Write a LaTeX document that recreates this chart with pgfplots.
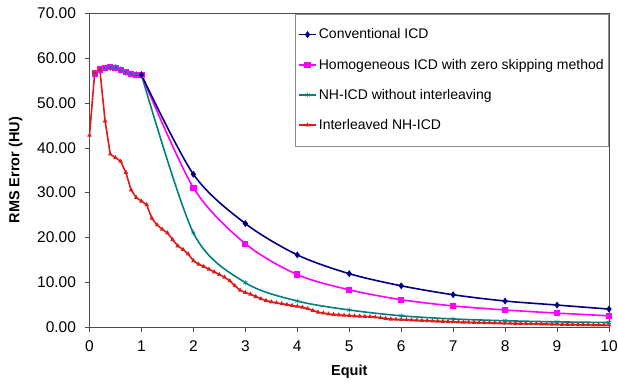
\documentclass[border=0pt]{standalone}
\usepackage{pgfplots}
\pgfplotsset{compat=1.18}
\usepackage{fontspec}
\setmainfont{Liberation Sans}
\definecolor{cnavy}{RGB}{0,0,128}
\definecolor{cmag}{RGB}{255,0,255}
\definecolor{cteal}{RGB}{0,128,128}
\definecolor{cred}{RGB}{225,25,25}
\begin{document}
\begin{tikzpicture}
\useasboundingbox (0,0) rectangle (618pt,385pt);
\begin{axis}[
  at={(89.5pt,58pt)}, anchor=south west,
  width=519.5pt, height=313.5pt, scale only axis,
  xmin=0, xmax=10, ymin=0, ymax=70,
  xtick={0,1,...,10}, ytick={0,10,...,70},
  xtick pos=bottom, ytick pos=left, tick align=outside,
  major tick length=5pt,
  tick style={black!70, line width=0.6pt},
  axis line style={black!70, line width=0.9pt},
  /pgf/number format/assume math mode=true,
  yticklabel style={/pgf/number format/fixed, /pgf/number format/precision=2, /pgf/number format/fixed zerofill, xshift=-5pt},
  xticklabel style={yshift=-5pt},
  ticklabel style={font=\fontsize{15.5}{18}\selectfont},
  xlabel={\bfseries Equit}, ylabel={\bfseries RMS Error (HU)},
  xlabel style={yshift=-7pt},
  ylabel style={yshift=8pt},
  label style={font=\fontsize{14.5}{17}\selectfont},
  legend style={at={(1,1)}, anchor=north east, draw=black!45, line width=0.6pt,
    font=\fontsize{14}{16}\selectfont, row sep=14.5pt, inner xsep=3pt, inner ysep=13pt},
  legend cell align=left,
  every axis plot/.append style={line width=1.6pt},
]
% Conventional ICD
\addplot[cnavy, mark=diamond*, mark size=2.2pt, smooth, tension=0.5] coordinates {
(0.1,56.6)(0.2,57.5)(0.3,57.8)(0.4,58.0)(0.5,57.85)(0.6,57.4)(0.7,56.9)(0.8,56.5)(0.9,56.3)(1.0,56.3)};
\addlegendentry{Conventional ICD}
\addplot[cmag, mark=square*, mark size=2.3pt, smooth, tension=0.5] coordinates {
(0.1,56.6)(0.2,57.5)(0.3,57.8)(0.4,58.0)(0.5,57.85)(0.6,57.4)(0.7,56.9)(0.8,56.5)(0.9,56.3)(1.0,56.3)};
\addlegendentry{Homogeneous ICD with zero skipping method}
\addplot[cteal, mark=asterisk, mark size=2.5pt, mark options={line width=0.6pt}, smooth, tension=0.5] coordinates {
(0.1,56.6)(0.2,57.5)(0.3,57.8)(0.4,58.0)(0.5,57.85)(0.6,57.4)(0.7,56.9)(0.8,56.5)(0.9,56.3)(1.0,56.3)};
\addlegendentry{NH-ICD without interleaving}
\addplot[cred, mark=triangle*, mark size=1.1pt] coordinates {
(0.0,42.8)(0.1,56.8)(0.2,57.4)(0.3,46.0)(0.4,38.6)(0.5,37.8)(0.6,37.0)(0.7,34.5)(0.8,30.6)(0.9,28.9)
(1.0,28.1)(1.1,27.3)(1.2,24.3)(1.3,22.8)(1.4,21.8)(1.5,21.0)(1.6,19.5)(1.7,18.1)(1.8,17.3)(1.9,16.3)
(2.0,14.8)(2.1,14.0)(2.2,13.5)(2.3,12.9)(2.4,12.3)(2.5,11.7)(2.6,11.1)(2.7,10.3)(2.8,9.2)(2.9,8.2)
(3.0,7.7)(3.1,7.3)(3.2,6.8)(3.3,6.3)(3.4,5.9)(3.5,5.6)(3.6,5.4)(3.7,5.2)(3.8,5.0)(3.9,4.8)
(4.0,4.6)(4.1,4.4)(4.2,4.1)(4.3,3.7)(4.4,3.3)(4.5,3.1)(4.6,2.9)(4.7,2.8)(4.8,2.7)(4.9,2.6)
(5.0,2.55)(5.1,2.45)(5.2,2.4)(5.3,2.35)(5.4,2.3)(5.5,2.2)(5.6,2.05)(5.7,1.9)(5.8,1.75)(5.9,1.7)
(6.0,1.65)(6.1,1.6)(6.2,1.55)(6.3,1.5)(6.4,1.45)(6.5,1.4)(6.6,1.35)(6.7,1.3)(6.8,1.25)(6.9,1.2)
(7.0,1.15)(7.1,1.1)(7.2,1.07)(7.3,1.04)(7.4,1.01)(7.5,0.98)(7.6,0.95)(7.7,0.92)(7.8,0.89)(7.9,0.86)
(8.0,0.83)(8.1,0.81)(8.2,0.79)(8.3,0.77)(8.4,0.75)(8.5,0.72)(8.6,0.70)(8.7,0.68)(8.8,0.66)(8.9,0.63)
(9.0,0.60)(9.1,0.58)(9.2,0.56)(9.3,0.54)(9.4,0.52)(9.5,0.50)(9.6,0.48)(9.7,0.46)(9.8,0.44)(9.9,0.43)(10.0,0.42)};
\addlegendentry{Interleaved NH-ICD}
% later parts (from Equit 1 onward) of the three other series
\addplot[cteal, mark=asterisk, mark size=2.5pt, mark options={line width=0.6pt}, smooth, tension=0.5, forget plot] coordinates {
(1.0,56.3)(2,21.0)(3,9.9)(4,5.8)(5,3.8)(6,2.5)(7,1.8)(8,1.4)(9,1.15)(10,1.0)};
\addplot[cmag, mark=square*, mark size=2.3pt, smooth, tension=0.5, forget plot] coordinates {
(1.0,56.3)(2,31.1)(3,18.6)(4,11.7)(5,8.3)(6,6.1)(7,4.7)(8,3.8)(9,3.1)(10,2.5)};
\addplot[cnavy, mark=diamond*, mark size=2.2pt, smooth, tension=0.5, forget plot] coordinates {
(1.0,56.3)(2,34.1)(3,23.1)(4,16.1)(5,11.9)(6,9.2)(7,7.2)(8,5.8)(9,4.9)(10,4.0)};
\end{axis}
\end{tikzpicture}
\end{document}
